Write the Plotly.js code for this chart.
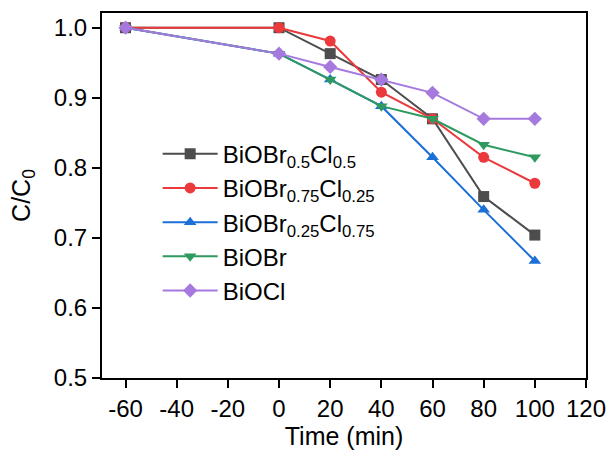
<!DOCTYPE html>
<html>
<head>
<meta charset="utf-8">
<script src="https://cdn.plot.ly/plotly-3.0.1.min.js"></script>
<style>html,body{margin:0;padding:0;background:#fff;}#chart{width:614px;height:450px;}</style>
</head>
<body>
<div id="chart"></div>
<script>
const time = [-60, 0, 20, 40, 60, 80, 100];
const names = [
  "BiOBr<sub>0.5</sub>Cl<sub>0.5</sub>",
  "BiOBr<sub>0.75</sub>Cl<sub>0.25</sub>",
  "BiOBr<sub>0.25</sub>Cl<sub>0.75</sub>",
  "BiOBr<sub> </sub>",
  "BiOCl<sub> </sub>"
];
const biobr05 = [1.0, 1.0, 0.963, 0.926, 0.870, 0.759, 0.704];
const biobr075 = [1.0, 1.0, 0.981, 0.908, 0.870, 0.815, 0.778];
const biobr025 = [1.0, 0.963, 0.926, 0.888, 0.815, 0.740, 0.667];
const biobr = [1.0, 0.963, 0.926, 0.888, 0.870, 0.833, 0.815];
const biocl = [1.0, 0.963, 0.944, 0.926, 0.907, 0.870, 0.870];
const xTicks = [-60, -40, -20, 0, 20, 40, 60, 80, 100, 120];
const yTicks = [0.5, 0.6, 0.7, 0.8, 0.9, 1.0];

const series = [biobr05, biobr075, biobr025, biobr, biocl];
const colors = ["#4d4d4d", "#ea3a3c", "#1d6fd8", "#2f9a5f", "#a679df"];
const symbols = ["square", "circle", "triangle-up", "triangle-down", "diamond"];

const traces = series.map((s, i) => ({
  x: time, y: s, name: names[i], type: "scatter", mode: "lines+markers",
  line: {color: colors[i], width: 2},
  marker: {color: colors[i], symbol: symbols[i], size: 11}
}));

const font = {family: "Liberation Sans, Arial, sans-serif", color: "#000"};
const layout = {
  width: 614, height: 450,
  margin: {l: 102, r: 28, t: 13, b: 72},
  paper_bgcolor: "#fff", plot_bgcolor: "#fff",
  font: Object.assign({size: 24}, font),
  showlegend: true,
  legend: {x: 0.115, y: 0.675, xanchor: "left", yanchor: "top", bgcolor: "rgba(0,0,0,0)",
    font: Object.assign({size: 24}, font), itemwidth: 55, tracegroupgap: 0},
  xaxis: {
    range: [-69.2, 120], tickvals: xTicks, ticktext: xTicks.map(String),
    ticks: "outside", ticklen: 8, tickwidth: 2, tickcolor: "#000",
    showline: true, linewidth: 2, linecolor: "#000", mirror: true,
    showgrid: false, zeroline: false,
    tickfont: Object.assign({size: 24}, font),
    title: {text: "Time (min)", font: Object.assign({size: 25}, font), standoff: 4}
  },
  yaxis: {
    range: [0.5, 1.021], tickvals: yTicks, ticktext: yTicks.map(v => v.toFixed(1)),
    ticks: "outside", ticklen: 8, tickwidth: 2, tickcolor: "#000",
    showline: true, linewidth: 2, linecolor: "#000", mirror: true,
    showgrid: false, zeroline: false,
    tickfont: Object.assign({size: 24}, font),
    title: {text: "C/C<sub>0</sub>", font: Object.assign({size: 25}, font), standoff: 16}
  }
};
Plotly.newPlot("chart", traces, layout, {displayModeBar: false, staticPlot: true});
</script>
</body>
</html>
